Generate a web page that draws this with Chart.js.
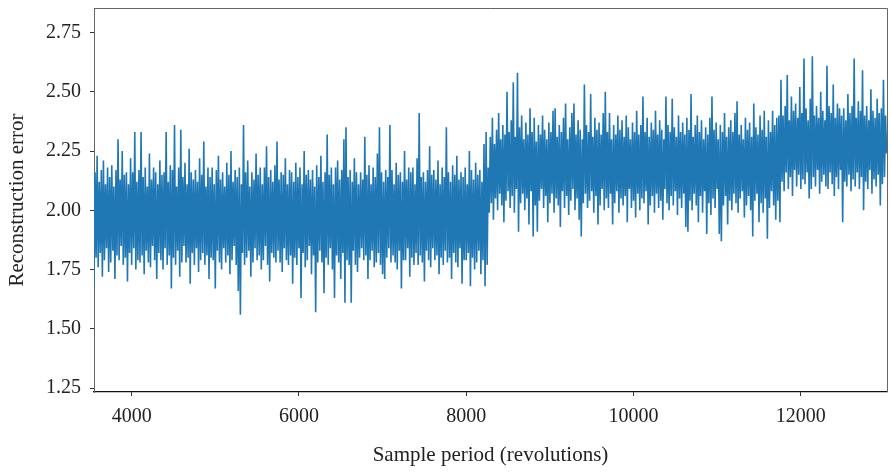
<!DOCTYPE html>
<html lang="en">
<head>
  <meta charset="UTF-8" />
  <title>Reconstruction error</title>
  <script src="https://cdn.jsdelivr.net/npm/chart.js"></script>
  <style>
    body { margin: 0; padding: 0; background: #fff; }
    #wrap { width: 891px; height: 474px; position: relative; }
  </style>
</head>
<body>
  <div id="wrap"><canvas id="errChart"></canvas></div>

  <script>
    // sampling grid (revolutions)
    const firstSample = 3550;
    const sampleStep = 12.5;

    // reconstruction error: 3550 .. 8262.5
    const errBefore = [
      1.68, 2.16, 1.80, 2.23, 1.76, 2.12, 1.82, 2.17, 1.72, 2.21, 1.79, 2.11, 1.84, 2.18, 1.74, 2.14,
      1.78, 2.19, 1.83, 2.10, 1.71, 2.17, 1.81, 2.30, 1.79, 2.13, 1.85, 2.25, 1.77, 2.15, 1.80, 2.16,
      1.70, 2.11, 1.82, 2.22, 1.77, 2.16, 1.84, 2.33, 1.75, 2.12, 1.79, 2.17, 1.78, 2.33, 1.81, 2.14,
      1.73, 2.18, 1.83, 2.10, 1.78, 2.24, 1.76, 2.13, 1.85, 2.18, 1.79, 2.16, 1.71, 2.11, 1.82, 2.21,
      1.79, 2.15, 1.75, 2.16, 1.84, 2.33, 1.77, 2.12, 1.81, 2.19, 1.67, 2.17, 1.80, 2.36, 1.77, 2.10,
      1.83, 2.18, 1.72, 2.34, 1.78, 2.14, 1.85, 2.20, 1.78, 2.11, 1.80, 2.26, 1.69, 2.16, 1.82, 2.13,
      1.77, 2.17, 1.84, 2.12, 1.74, 2.22, 1.79, 2.15, 1.82, 2.29, 1.77, 2.10, 1.81, 2.18, 1.71, 2.14,
      1.80, 2.18, 1.79, 2.11, 1.67, 2.17, 1.83, 2.23, 1.78, 2.13, 1.75, 2.16, 1.84, 2.10, 1.78, 2.20,
      1.81, 2.15, 1.73, 2.25, 1.79, 2.12, 1.85, 2.17, 1.77, 2.14, 1.66, 2.18, 1.56, 2.11, 1.82, 2.36,
      1.77, 2.16, 1.80, 2.21, 1.83, 2.10, 1.72, 2.16, 1.78, 2.13, 1.84, 2.24, 1.79, 2.15, 1.81, 2.18,
      1.75, 2.11, 1.79, 2.18, 1.85, 2.27, 1.77, 2.14, 1.70, 2.17, 1.82, 2.12, 1.80, 2.19, 1.78, 2.29,
      1.83, 2.13, 1.78, 2.16, 1.74, 2.15, 1.84, 2.22, 1.79, 2.11, 1.77, 2.17, 1.81, 2.16, 1.69, 2.12,
      1.80, 2.20, 1.77, 2.14, 1.84, 2.18, 1.63, 2.11, 1.82, 2.25, 1.76, 2.15, 1.79, 2.17, 1.85, 2.13,
      1.73, 2.17, 1.81, 2.10, 1.57, 2.19, 1.78, 2.14, 1.83, 2.23, 1.78, 2.12, 1.65, 2.16, 1.80, 2.32,
      1.77, 2.15, 1.84, 2.18, 1.75, 2.11, 1.63, 2.18, 1.81, 2.21, 1.78, 2.13, 1.71, 2.17, 1.82, 2.30,
      1.61, 2.35, 1.79, 2.14, 1.77, 2.17, 1.61, 2.12, 1.83, 2.22, 1.77, 2.16, 1.74, 2.11, 1.80, 2.16,
      1.84, 2.13, 1.79, 2.31, 1.81, 2.15, 1.71, 2.19, 1.79, 2.11, 1.83, 2.18, 1.76, 2.14, 1.78, 2.24,
      1.82, 2.35, 1.77, 2.16, 1.73, 2.12, 1.71, 2.17, 1.80, 2.14, 1.84, 2.36, 1.78, 2.17, 1.81, 2.11,
      1.78, 2.20, 1.75, 2.15, 1.83, 2.16, 1.67, 2.12, 1.79, 2.25, 1.79, 2.13, 1.84, 2.18, 1.72, 2.16,
      1.80, 2.18, 1.77, 2.11, 1.82, 2.22, 1.77, 2.41, 1.81, 2.14, 1.78, 2.16, 1.70, 2.12, 1.83, 2.17,
      1.79, 2.27, 1.76, 2.15, 1.84, 2.17, 1.79, 2.13, 1.81, 2.21, 1.73, 2.11, 1.80, 2.18, 1.77, 2.14,
      1.83, 2.35, 1.78, 2.16, 1.80, 2.12, 1.71, 2.19, 1.82, 2.15, 1.78, 2.23, 1.76, 2.13, 1.84, 2.16,
      1.69, 2.14, 1.79, 2.18, 1.79, 2.11, 1.82, 2.25, 1.68, 2.17, 1.80, 2.13, 1.75, 2.20, 1.78, 2.15,
      1.83, 2.17, 1.73, 2.12, 1.79, 2.28, 1.68, 2.33, 1.77, 2.18
    ];
    // after the step up: 8275 .. 11737.5
    const errMiddle = [
      1.99, 2.31, 2.03, 2.39, 1.96, 2.28, 2.05, 2.34, 2.00, 2.41, 2.07, 2.30, 2.02, 2.36, 1.95, 2.32,
      2.04, 2.50, 2.08, 2.33, 2.01, 2.38, 2.06, 2.54, 1.99, 2.31, 2.09, 2.58, 1.91, 2.35, 2.03, 2.40,
      2.07, 2.30, 2.00, 2.37, 2.05, 2.32, 1.94, 2.43, 2.08, 2.33, 1.89, 2.39, 2.02, 2.29, 1.91, 2.36,
      2.04, 2.32, 2.09, 2.40, 2.01, 2.34, 2.06, 2.30, 1.95, 2.37, 2.03, 2.33, 2.07, 2.42, 1.99, 2.43,
      2.05, 2.31, 2.02, 2.36, 1.93, 2.33, 2.08, 2.39, 2.01, 2.45, 2.06, 2.30, 1.98, 2.35, 2.04, 2.41,
      2.09, 2.45, 2.00, 2.32, 2.05, 2.38, 1.96, 2.34, 1.89, 2.30, 2.03, 2.53, 2.07, 2.36, 2.01, 2.33,
      2.04, 2.49, 2.08, 2.31, 1.99, 2.39, 2.06, 2.34, 1.94, 2.37, 2.02, 2.32, 2.09, 2.41, 2.00, 2.50,
      2.05, 2.33, 2.01, 2.41, 2.07, 2.30, 1.94, 2.36, 2.03, 2.32, 2.08, 2.40, 1.99, 2.34, 2.05, 2.38,
      2.02, 2.31, 2.06, 2.40, 1.95, 2.35, 2.09, 2.30, 2.01, 2.37, 2.04, 2.33, 1.97, 2.42, 2.07, 2.32,
      2.00, 2.36, 2.05, 2.48, 2.03, 2.33, 2.08, 2.39, 1.94, 2.31, 2.02, 2.37, 2.06, 2.34, 1.99, 2.42,
      2.07, 2.32, 2.01, 2.38, 2.04, 2.34, 1.96, 2.30, 2.09, 2.48, 2.03, 2.36, 2.00, 2.33, 2.06, 2.47,
      2.02, 2.35, 2.08, 2.31, 1.98, 2.40, 2.05, 2.33, 2.01, 2.37, 2.07, 2.32, 1.93, 2.39, 1.91, 2.34,
      2.04, 2.49, 2.00, 2.31, 2.07, 2.36, 2.02, 2.40, 1.95, 2.33, 2.06, 2.38, 1.99, 2.30, 2.08, 2.35,
      1.90, 2.32, 2.03, 2.39, 1.98, 2.48, 2.05, 2.34, 2.01, 2.37, 2.09, 2.30, 1.90, 2.36, 1.87, 2.33,
      2.02, 2.41, 2.06, 2.31, 1.94, 2.35, 2.04, 2.38, 2.00, 2.33, 2.07, 2.41, 2.03, 2.46, 1.99, 2.32,
      2.05, 2.36, 2.08, 2.30, 1.97, 2.39, 2.02, 2.34, 2.06, 2.37, 2.00, 2.31, 1.89, 2.45, 2.04, 2.35,
      2.07, 2.32, 1.95, 2.40, 2.03, 2.34, 1.99, 2.42, 2.05, 2.31, 1.88, 2.38, 2.01, 2.33, 2.08, 2.42,
      2.02, 2.36, 1.96, 2.39, 2.04, 2.40
    ];
    // last stretch: 11750 .. 13025
    const errAfter = [
      1.95, 2.55, 2.12, 2.40, 2.08, 2.44, 2.16, 2.57, 2.09, 2.38, 2.14, 2.48, 2.06, 2.42, 2.17, 2.45,
      2.10, 2.39, 2.15, 2.52, 2.09, 2.41, 2.13, 2.64, 2.11, 2.43, 2.16, 2.38, 2.05, 2.47, 2.09, 2.65,
      2.14, 2.40, 2.10, 2.44, 2.17, 2.39, 2.07, 2.50, 2.12, 2.42, 2.15, 2.38, 2.10, 2.61, 2.09, 2.44,
      2.16, 2.41, 2.11, 2.53, 2.06, 2.39, 2.14, 2.45, 2.09, 2.43, 2.17, 2.40, 1.95, 2.43, 2.12, 2.38,
      2.10, 2.49, 2.15, 2.41, 2.08, 2.44, 2.13, 2.64, 2.10, 2.39, 2.16, 2.46, 2.09, 2.42, 2.14, 2.59,
      2.00, 2.40, 2.12, 2.44, 2.09, 2.38, 2.17, 2.51, 2.07, 2.42, 2.13, 2.39, 2.10, 2.47, 2.15, 2.41,
      2.02, 2.43, 2.11, 2.55, 2.14, 2.40, 2.24
    ];

    const xTicks = [4000, 6000, 8000, 10000, 12000];
    const yTicks = [1.25, 1.50, 1.75, 2.00, 2.25, 2.50, 2.75];

    const errors = errBefore.concat(errMiddle, errAfter);
    const points = errors.map((v, i) => ({ x: firstSample + i * sampleStep, y: v }));

    const serif = "'Liberation Serif', 'DejaVu Serif', serif";
    const textColor = "#222";

    // top and right edges of the frame
    const framePlugin = {
      id: "frame",
      afterDraw(chart) {
        const { ctx, chartArea: a } = chart;
        ctx.save();
        ctx.strokeStyle = "#666";
        ctx.lineWidth = 1;
        ctx.beginPath();
        ctx.moveTo(a.left, a.top + 0.5);
        ctx.lineTo(a.right + 0.5, a.top + 0.5);
        ctx.lineTo(a.right + 0.5, a.bottom);
        ctx.stroke();
        ctx.restore();
      }
    };

    new Chart(document.getElementById("errChart"), {
      type: "line",
      data: {
        datasets: [{
          data: points,
          borderColor: "#1f77b4",
          borderWidth: 1.6,
          pointRadius: 0,
          tension: 0,
          fill: false
        }]
      },
      options: {
        responsive: true,
        maintainAspectRatio: false,
        animation: false,
        layout: { padding: { top: 8, right: 4, left: 0, bottom: 0 } },
        plugins: { legend: { display: false }, tooltip: { enabled: false } },
        scales: {
          x: {
            type: "linear",
            min: 3550,
            max: 13030,
            afterFit: s => { s.height = 82; s.paddingLeft = 0; s.paddingRight = 0; },
            afterBuildTicks: s => { s.ticks = xTicks.map(v => ({ value: v })); },
            border: { color: "#111", width: 1.2 },
            grid: { drawOnChartArea: false, drawTicks: true, tickLength: 4, color: "#333" },
            ticks: {
              color: textColor,
              padding: 9,
              font: { family: serif, size: 20 },
              callback: v => String(v)
            },
            title: {
              display: true,
              text: "Sample period (revolutions)",
              color: textColor,
              font: { family: serif, size: 21 },
              padding: { top: 0, bottom: 6 }
            }
          },
          y: {
            min: 1.234,
            max: 2.853,
            afterFit: s => { s.width = 94; s.paddingTop = 0; s.paddingBottom = 0; },
            afterBuildTicks: s => { s.ticks = yTicks.map(v => ({ value: v })); },
            border: { color: "#666", width: 1 },
            grid: { drawOnChartArea: false, drawTicks: true, tickLength: 4, color: "#333" },
            ticks: {
              color: textColor,
              padding: 9,
              font: { family: serif, size: 20 },
              callback: v => v.toFixed(2)
            },
            title: {
              display: true,
              text: "Reconstruction error",
              color: textColor,
              font: { family: serif, size: 21 },
              padding: { top: 5, bottom: 0 }
            }
          }
        }
      },
      plugins: [framePlugin]
    });
  </script>
</body>
</html>
